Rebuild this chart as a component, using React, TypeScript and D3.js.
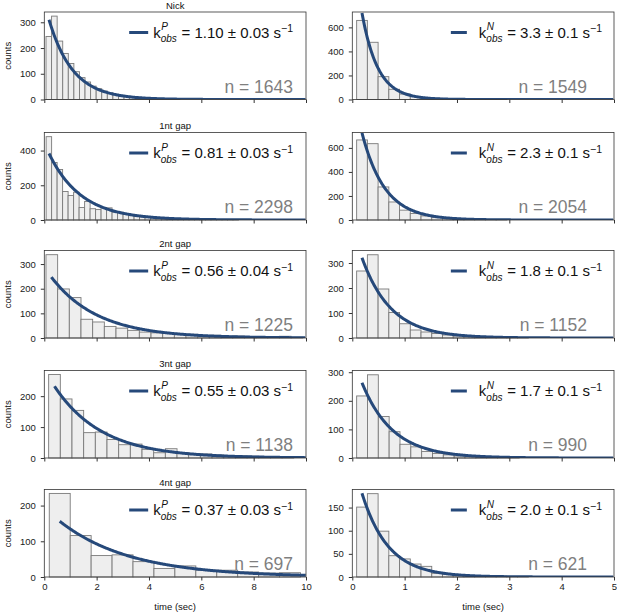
import * as d3 from "d3";
import React, { useEffect, useRef } from "react";

const rowTitles = ["Nick", "1nt gap", "2nt gap", "3nt gap", "4nt gap"];

// left column: P events, time axis 0-10 s
const leftCounts = [
  [245, 324, 227, 179, 140, 108, 85, 68, 52, 42, 33, 26, 20, 16, 12, 9, 7, 5, 4, 3, 2, 2, 1, 1],
  [480, 331, 291, 164, 141, 160, 72, 107, 65, 60, 72, 70, 45, 45, 35, 25, 20, 18, 15, 12, 10, 7, 5, 9, 4, 3, 8, 3, 2, 8, 2, 1, 2, 1, 1],
  [338, 199, 164, 76, 65, 47, 40, 31, 24, 21, 19, 14, 15, 9, 11, 7, 8, 5, 5, 6, 7, 3],
  [270, 191, 154, 82, 84, 60, 43, 45, 28, 17, 30, 17, 14, 13, 10, 8, 7, 6, 5, 4, 3],
  [234, 116, 60, 62, 43, 24, 31, 19, 19, 14, 11, 12],
];
const leftBinStart = [0.065, 0.07, 0.064, 0.166, 0.19];
const leftBinWidth = [0.213, 0.21, 0.446, 0.446, 0.8];
const leftYMax = [340, 504, 355, 283, 245];
const leftYTicks = [[0, 100, 200, 300], [0, 200, 400], [0, 100, 200, 300], [0, 100, 200], [0, 100, 200]];
const leftRate = [1.1, 0.81, 0.56, 0.55, 0.37];
const leftRateLabel = ["1.10 ± 0.03", "0.81 ± 0.03", "0.56 ± 0.04", "0.55 ± 0.03", "0.37 ± 0.03"];
const leftFitStart = [0.18, 0.18, 0.27, 0.39, 0.59];
const leftFitCount = [310, 383, 247, 232, 156];
const leftN = [1643, 2298, 1225, 1138, 697];
const leftXTicks = [0, 2, 4, 6, 8, 10];

// right column: N events, time axis 0-5 s
const rightCounts = [
  [658, 476, 190, 85, 45, 25, 15, 10, 7, 5, 3, 2, 2, 1],
  [666, 635, 275, 150, 82, 54, 34, 20, 12, 8, 5, 3, 2, 1],
  [268, 333, 196, 102, 57, 32, 24, 18, 12, 8, 6, 4, 3, 2, 2, 1],
  [217, 291, 145, 92, 48, 39, 23, 16, 11, 7, 5, 4, 3, 2, 1],
  [151, 180, 99, 46, 39, 28, 23, 8, 6, 4, 3, 3, 2, 2, 1, 1],
];
const rightBinStart = [0.083, 0.083, 0.083, 0.083, 0.083];
const rightBinWidth = [0.205, 0.205, 0.205, 0.207, 0.205];
const rightYMax = [728, 728, 350, 306, 189];
const rightYTicks = [[0, 200, 400, 600], [0, 200, 400, 600], [0, 100, 200, 300], [0, 100, 200, 300], [0, 50, 100, 150]];
const rightRate = [3.3, 2.3, 1.8, 1.7, 2.0];
const rightRateLabel = ["3.3 ± 0.1", "2.3 ± 0.1", "1.8 ± 0.1", "1.7 ± 0.1", "2.0 ± 0.1"];
const rightFitStart = [0.185, 0.185, 0.185, 0.185, 0.185];
const rightFitCount = [720, 725, 321, 263, 181];
const rightN = [1549, 2054, 1152, 990, 621];
const rightXTicks = [0, 1, 2, 3, 4, 5];

const FONT = "'Liberation Sans', Arial, Helvetica, sans-serif";
const CURVE = "#26497a";

const rowTop = [12, 132.5, 250.5, 370.5, 489.5];
const plotH = 87.5;

const App: React.FC = () => {
  const ref = useRef<SVGSVGElement>(null);

  useEffect(() => {
    if (!ref.current) return;
    const svg = d3.select(ref.current);
    svg.selectAll("*").remove();

    // measure a string in a given style
    const measure = (str: string, size: number, italic = false) => {
      const t = svg.append("text")
        .attr("font-family", FONT)
        .attr("font-size", size)
        .attr("font-style", italic ? "italic" : "normal")
        .text(str);
      const len = (t.node() as SVGTextElement).getComputedTextLength();
      t.remove();
      return len;
    };

    const cols = [
      {
        x0: 44.3, x1: 306, xMax: 10, xTicks: leftXTicks, sup: "P",
        counts: leftCounts, binStart: leftBinStart, binWidth: leftBinWidth,
        yMax: leftYMax, yTicks: leftYTicks, rate: leftRate, rateLabel: leftRateLabel,
        fitStart: leftFitStart, fitCount: leftFitCount, n: leftN,
        legendRight: 293, nRight: 293, lineA: 24, lineB: 5,
      },
      {
        x0: 352.3, x1: 614, xMax: 5, xTicks: rightXTicks, sup: "N",
        counts: rightCounts, binStart: rightBinStart, binWidth: rightBinWidth,
        yMax: rightYMax, yTicks: rightYTicks, rate: rightRate, rateLabel: rightRateLabel,
        fitStart: rightFitStart, fitCount: rightFitCount, n: rightN,
        legendRight: 602, nRight: 587, lineA: 28, lineB: 12,
      },
    ];

    cols.forEach((c, ci) => {
      rowTitles.forEach((title, ri) => {
        const top = rowTop[ri];
        const bottom = top + plotH;
        const x = d3.scaleLinear().domain([0, c.xMax]).range([c.x0, c.x1]);
        const y = d3.scaleLinear().domain([0, c.yMax[ri]]).range([bottom, top]);
        const g = svg.append("g");
        const clipId = `clip-${ci}-${ri}`;
        g.append("clipPath").attr("id", clipId)
          .append("rect")
          .attr("x", c.x0).attr("y", top)
          .attr("width", c.x1 - c.x0).attr("height", plotH);

        // histogram bars
        const w = c.binWidth[ri];
        const s0 = c.binStart[ri];
        g.append("g")
          .selectAll("rect")
          .data(c.counts[ri])
          .join("rect")
          .attr("x", (d, i) => x(s0 + i * w))
          .attr("width", x(w) - x(0))
          .attr("y", (d) => y(d))
          .attr("height", (d) => y(0) - y(d))
          .attr("fill", "#eeeeee")
          .attr("stroke", "#7a7a7a")
          .attr("stroke-width", 0.9);

        // exponential fit
        const k = c.rate[ri];
        const t0 = c.fitStart[ri];
        const amp = c.fitCount[ri];
        const ts = d3.range(t0, c.xMax + 0.001, c.xMax / 300);
        const line = d3.line<number>()
          .x((t) => x(t))
          .y((t) => y(amp * Math.exp(-k * (t - t0))));
        g.append("path")
          .attr("d", line(ts))
          .attr("fill", "none")
          .attr("stroke", CURVE)
          .attr("stroke-width", 3)
          .attr("clip-path", `url(#${clipId})`);

        // frame
        g.append("rect")
          .attr("x", c.x0).attr("y", top)
          .attr("width", c.x1 - c.x0).attr("height", plotH)
          .attr("fill", "none")
          .attr("stroke", "#333")
          .attr("stroke-width", 0.8);

        // axes
        const isLast = ri === rowTitles.length - 1;
        const xAxis = d3.axisBottom(x)
          .tickValues(c.xTicks)
          .tickSize(3.5)
          .tickSizeOuter(0)
          .tickPadding(3)
          .tickFormat((d) => (isLast ? d3.format("d")(d as number) : ""));
        g.append("g")
          .attr("transform", `translate(0,${bottom})`)
          .call(xAxis)
          .attr("font-size", 9.5)
          .attr("font-family", FONT)
          .call((s) => s.select(".domain").remove())
          .call((s) => s.selectAll("line").attr("stroke", "#333"))
          .call((s) => s.selectAll("text").attr("fill", "#1a1a1a"));

        const yAxis = d3.axisLeft(y)
          .tickValues(c.yTicks[ri])
          .tickSize(3.5)
          .tickSizeOuter(0)
          .tickPadding(5)
          .tickFormat(d3.format("d"));
        g.append("g")
          .attr("transform", `translate(${c.x0},0)`)
          .call(yAxis)
          .attr("font-size", 9.5)
          .attr("font-family", FONT)
          .call((s) => s.select(".domain").remove())
          .call((s) => s.selectAll("line").attr("stroke", "#333"))
          .call((s) => s.selectAll("text").attr("fill", "#1a1a1a"));

        // legend, right-aligned at legendRight
        const base = top + 25.5;
        const mainStr = `\u00a0= ${c.rateLabel[ri]} s`;
        const restLen = measure(mainStr, 15) + measure("\u22121", 10.5);
        const obsLen = measure("obs", 10, true);
        const kLen = measure("k", 15);
        const restStart = c.legendRight - restLen;
        const obsStart = restStart - obsLen - 0.5;
        const kStart = obsStart - kLen;

        const leg = g.append("text")
          .attr("y", base)
          .attr("font-family", FONT)
          .attr("font-size", 15)
          .attr("fill", "#111");
        leg.append("tspan").attr("x", kStart).attr("y", base).text("k");
        leg.append("tspan").attr("x", obsStart + 0.5).attr("y", base - 7.2)
          .attr("font-size", 10).attr("font-style", "italic").text(c.sup);
        leg.append("tspan").attr("x", obsStart).attr("y", base + 4.5)
          .attr("font-size", 10).attr("font-style", "italic").text("obs");
        leg.append("tspan").attr("x", restStart).attr("y", base).text(mainStr);
        leg.append("tspan").attr("y", base - 5.5).attr("font-size", 10.5).text("\u22121");

        g.append("line")
          .attr("x1", kStart - c.lineA).attr("x2", kStart - c.lineB)
          .attr("y1", top + 20.5).attr("y2", top + 20.5)
          .attr("stroke", CURVE)
          .attr("stroke-width", 3);

        // n label
        g.append("text")
          .attr("x", c.nRight).attr("y", bottom - 7)
          .attr("text-anchor", "end")
          .attr("font-family", FONT)
          .attr("font-size", 17.5)
          .attr("fill", "#7f7f7f")
          .text(`n = ${c.n[ri]}`);

        if (ci === 0) {
          g.append("text")
            .attr("x", (c.x0 + c.x1) / 2).attr("y", top - 3.5)
            .attr("text-anchor", "middle")
            .attr("font-family", FONT)
            .attr("font-size", 9.5)
            .attr("fill", "#111")
            .text(title);
          g.append("text")
            .attr("transform", `translate(8,${(top + bottom) / 2}) rotate(-90)`)
            .attr("text-anchor", "middle")
            .attr("dy", "0.35em")
            .attr("font-family", FONT)
            .attr("font-size", 9.5)
            .attr("fill", "#111")
            .text("counts");
        }
        if (isLast) {
          g.append("text")
            .attr("x", (c.x0 + c.x1) / 2).attr("y", 610)
            .attr("text-anchor", "middle")
            .attr("font-family", FONT)
            .attr("font-size", 9.5)
            .attr("fill", "#111")
            .text("time (sec)");
        }
      });
    });
  }, []);

  return (
    <svg
      ref={ref}
      width={617}
      height={615}
      style={{ position: "absolute", left: 0, top: 0, background: "#fff" }}
    />
  );
};

export default App;
